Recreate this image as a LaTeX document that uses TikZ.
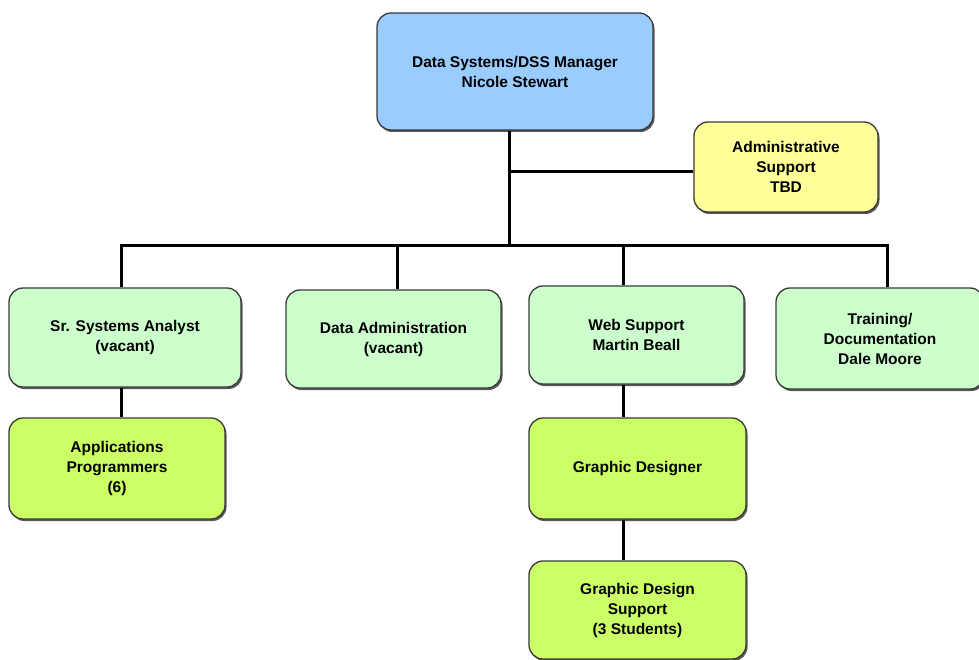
\documentclass[tikz,border=0pt]{standalone}
\usepackage{fontspec}
\setmainfont{Liberation Sans}
\usetikzlibrary{shadows}
\definecolor{mgrblue}{HTML}{99CCFF}
\definecolor{adminyellow}{HTML}{FFFF99}
\definecolor{staffgreen}{HTML}{CCFFCC}
\definecolor{teamlime}{HTML}{CCFF66}
\definecolor{edgegray}{HTML}{3A3A3A}
\tikzset{
  orgbox/.style={draw=edgegray, line width=1.3pt, rounded corners=14pt,
    align=center, inner sep=0pt,
    font=\fontsize{15.5}{20}\selectfont\bfseries,
    drop shadow={shadow xshift=1.5pt, shadow yshift=-2pt, fill=black!65, opacity=1}},
  link/.style={line width=3pt, black},
}
\begin{document}
\begin{tikzpicture}[x=1pt, y=-1pt]
  \useasboundingbox (0,0) rectangle (979,660);
  \fill[white] (0,0) rectangle (979,660);

  % connectors first, boxes on top
  \coordinate (tr) at (509,246);
  \coordinate (aj) at (509,172);
  \coordinate (b1) at (121,246);
  \coordinate (b2) at (397,246);
  \coordinate (b3) at (623,246);
  \coordinate (b4) at (887,246);

  % boxes
  \node[orgbox, fill=mgrblue, minimum width=276pt, minimum height=117pt] (mgr) at (515,71.5)
    {Data Systems/DSS Manager\\Nicole Stewart};
  \node[orgbox, fill=adminyellow, minimum width=184pt, minimum height=90pt] (admin) at (786,167)
    {Administrative\\Support\\TBD};
  \node[orgbox, fill=staffgreen, minimum width=232pt, minimum height=99pt] (sr) at (125,337.5)
    {Sr. Systems Analyst\\(vacant)};
  \node[orgbox, fill=staffgreen, minimum width=215pt, minimum height=98pt] (da) at (393.5,339)
    {Data Administration\\(vacant)};
  \node[orgbox, fill=staffgreen, minimum width=215pt, minimum height=98pt] (web) at (636.5,335)
    {Web Support\\Martin Beall};
  \node[orgbox, fill=staffgreen, minimum width=208pt, minimum height=101pt] (train) at (880,338.5)
    {Training/\\Documentation\\Dale Moore};
  \node[orgbox, fill=teamlime, minimum width=216pt, minimum height=101pt] (apps) at (117,468.5)
    {Applications\\Programmers\\(6)};
  \node[orgbox, fill=teamlime, minimum width=217pt, minimum height=101pt] (gd) at (637.5,468.5)
    {Graphic Designer};
  \node[orgbox, fill=teamlime, minimum width=217pt, minimum height=98pt] (gds) at (637.5,610)
    {Graphic Design\\Support\\(3 Students)};

  % reporting lines
  \draw[link] (tr |- mgr.south) -- (tr);
  \draw[link] (aj) -- (aj -| admin.west);
  \draw[link, line cap=rect] (b1) -- (b4);
  \draw[link] (b1) -- (b1 |- sr.north);
  \draw[link] (b2) -- (b2 |- da.north);
  \draw[link] (b3) -- (b3 |- web.north);
  \draw[link] (b4) -- (b4 |- train.north);
  \draw[link] (b1 |- sr.south) -- (b1 |- apps.north);
  \draw[link] (b3 |- web.south) -- (b3 |- gd.north);
  \draw[link] (b3 |- gd.south) -- (b3 |- gds.north);
\end{tikzpicture}
\end{document}
